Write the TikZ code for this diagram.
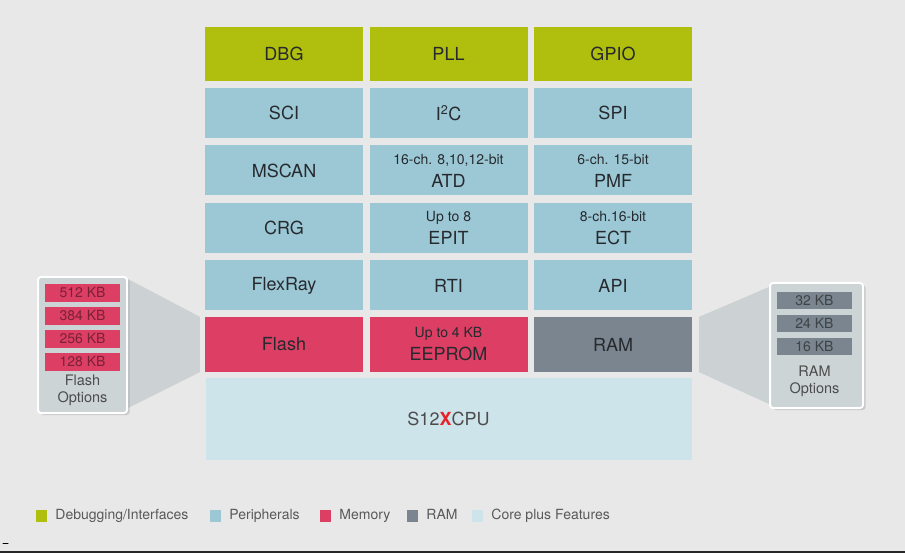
\documentclass[tikz,border=0pt]{standalone}
\usepackage{fontspec}
\setmainfont{TeX Gyre Heros}
\usetikzlibrary{positioning,backgrounds,shadows}
\definecolor{bgcol}{RGB}{232,232,232}
\definecolor{dbgcol}{RGB}{176,190,14}
\definecolor{pericol}{RGB}{156,200,214}
\definecolor{memcol}{RGB}{220,62,100}
\definecolor{ramcol}{RGB}{122,133,143}
\definecolor{corecol}{RGB}{206,228,235}
\definecolor{optcol}{RGB}{205,212,214}
\definecolor{trapcol}{RGB}{204,210,211}
\definecolor{txtcol}{RGB}{38,42,46}
\definecolor{xred}{RGB}{230,35,42}
\newcommand{\bigfnt}{\fontsize{18}{23}\selectfont}
\newcommand{\smallfnt}{\fontsize{14}{16}\selectfont}
\newcommand{\twoline}[2]{{\smallfnt #1}\\#2}
\begin{document}
\begin{tikzpicture}[x=1pt,y=-1pt, line join=round, line cap=round,
		blk/.style={minimum width=158pt,minimum height=50pt,inner sep=0pt,align=center,text=txtcol,font=\bigfnt},
		dbgblk/.style={blk,fill=dbgcol,minimum height=54pt},
		periblk/.style={blk,fill=pericol},
		memblk/.style={blk,fill=memcol,minimum height=55pt},
		ramblk/.style={blk,fill=ramcol,minimum height=55pt},
		coreblk/.style={blk,fill=corecol,minimum width=486pt,minimum height=82pt,text=black!70},
		optbox/.style={draw=white,line width=2pt,rounded corners=3pt,fill=optcol,
			drop shadow={opacity=0.3,shadow xshift=2.5pt,shadow yshift=-2pt}},
		optitem/.style={minimum width=75pt,minimum height=18pt,inner sep=0pt,font=\fontsize{14}{16}\selectfont},
		opttext/.style={align=center,inner sep=0pt,text=black!70,font=\fontsize{14.5}{17}\selectfont},
		legbox/.style={minimum width=11pt,minimum height=12pt,inner sep=0pt},
		legtext/.style={inner sep=0pt,text height=10pt,text depth=3pt,text=black!65,font=\fontsize{14}{16}\selectfont}]
	\useasboundingbox (0,0) rectangle (905,553);
	\begin{scope}[on background layer]
		\fill[bgcol] (0,0) rectangle (905,553);
	\end{scope}
	% main blocks
	\node[dbgblk] (dbg) at (284,54) {DBG};
	\node[dbgblk] (pll) at (448.5,54) {PLL};
	\node[dbgblk] (gpio) at (613,54) {GPIO};
	\node[periblk] (sci) at (284,113) {SCI};
	\node[periblk] (iic) at (448.5,113) {I\textsuperscript{2}C};
	\node[periblk] (spi) at (613,113) {SPI};
	\node[periblk] (mscan) at (284,170.5) {MSCAN};
	\node[periblk] (atd) at (448.5,170.5) {\twoline{16-ch. 8,10,12-bit}{ATD}};
	\node[periblk] (pmf) at (613,170.5) {\twoline{6-ch. 15-bit}{PMF}};
	\node[periblk] (crg) at (284,228) {CRG};
	\node[periblk] (epit) at (448.5,228) {\twoline{Up to 8}{EPIT}};
	\node[periblk] (ect) at (613,228) {\twoline{8-ch.16-bit}{ECT}};
	\node[periblk] (flexray) at (284,285.5) {FlexRay};
	\node[periblk] (rti) at (448.5,285.5) {RTI};
	\node[periblk] (api) at (613,285.5) {API};
	\node[memblk] (flash) at (284,344.5) {Flash};
	\node[memblk] (eeprom) at (448.5,344.5) {\twoline{Up to 4 KB}{EEPROM}};
	\node[ramblk] (ram) at (613,344.5) {RAM};
	\node[coreblk] (cpu) at (448.5,419) {S12{\color{xred}\bfseries X}CPU};
	% option boxes
	\node[optbox,minimum width=89pt,minimum height=136pt] (flashopt) at (82.5,345) {};
	\foreach \y/\t [count=\i] in {293/512 KB,316/384 KB,339/256 KB,362/128 KB}
		\node[optitem,fill=memcol,text=memcol!55!black] (flashitem\i) at (82.5,\y) {\t};
	\node[opttext] (flashlbl) at (82.5,390.5) {Flash\\Options};
	\node[optbox,minimum width=93pt,minimum height=125pt] (ramopt) at (816.5,345.5) {};
	\foreach \y/\t [count=\i] in {300.5/32 KB,323.5/24 KB,346.5/16 KB}
		\node[optitem,minimum height=17pt,fill=ramcol,text=ramcol!50!black] (ramitem\i) at (814.5,\y) {\t};
	\node[opttext] (ramlbl) at (814.5,381.5) {RAM\\Options};
	\begin{scope}[on background layer]
		\fill[trapcol]
			([yshift=-3pt]flashopt.north east) -- ([xshift=-5pt]flash.north west)
			-- ([xshift=-5pt]flash.south west) -- ([yshift=6pt]flashopt.south east) -- cycle;
		\fill[trapcol]
			([xshift=7pt]ram.north east) -- ([yshift=-5pt]ramopt.north west)
			-- ([yshift=5pt]ramopt.south west) -- ([xshift=7pt]ram.south east) -- cycle;
	\end{scope}
	% legend
	\foreach \x/\c/\t [count=\i] in {41.5/dbgcol/{Debugging/Interfaces},215.5/pericol/Peripherals,
		325.5/memcol/Memory,412.5/ramcol/RAM,477.5/corecol/{Core plus Features}}{
		\node[legbox,fill=\c] (leg\i) at (\x,516) {};
		\node[legtext,right=8pt of leg\i] (legtxt\i) {\t};
	}
	\draw[line width=1pt] (3,543) -- (8,543);
	\draw[line width=2pt,black!85] (0,552) -- (905,552);
\end{tikzpicture}
\end{document}
